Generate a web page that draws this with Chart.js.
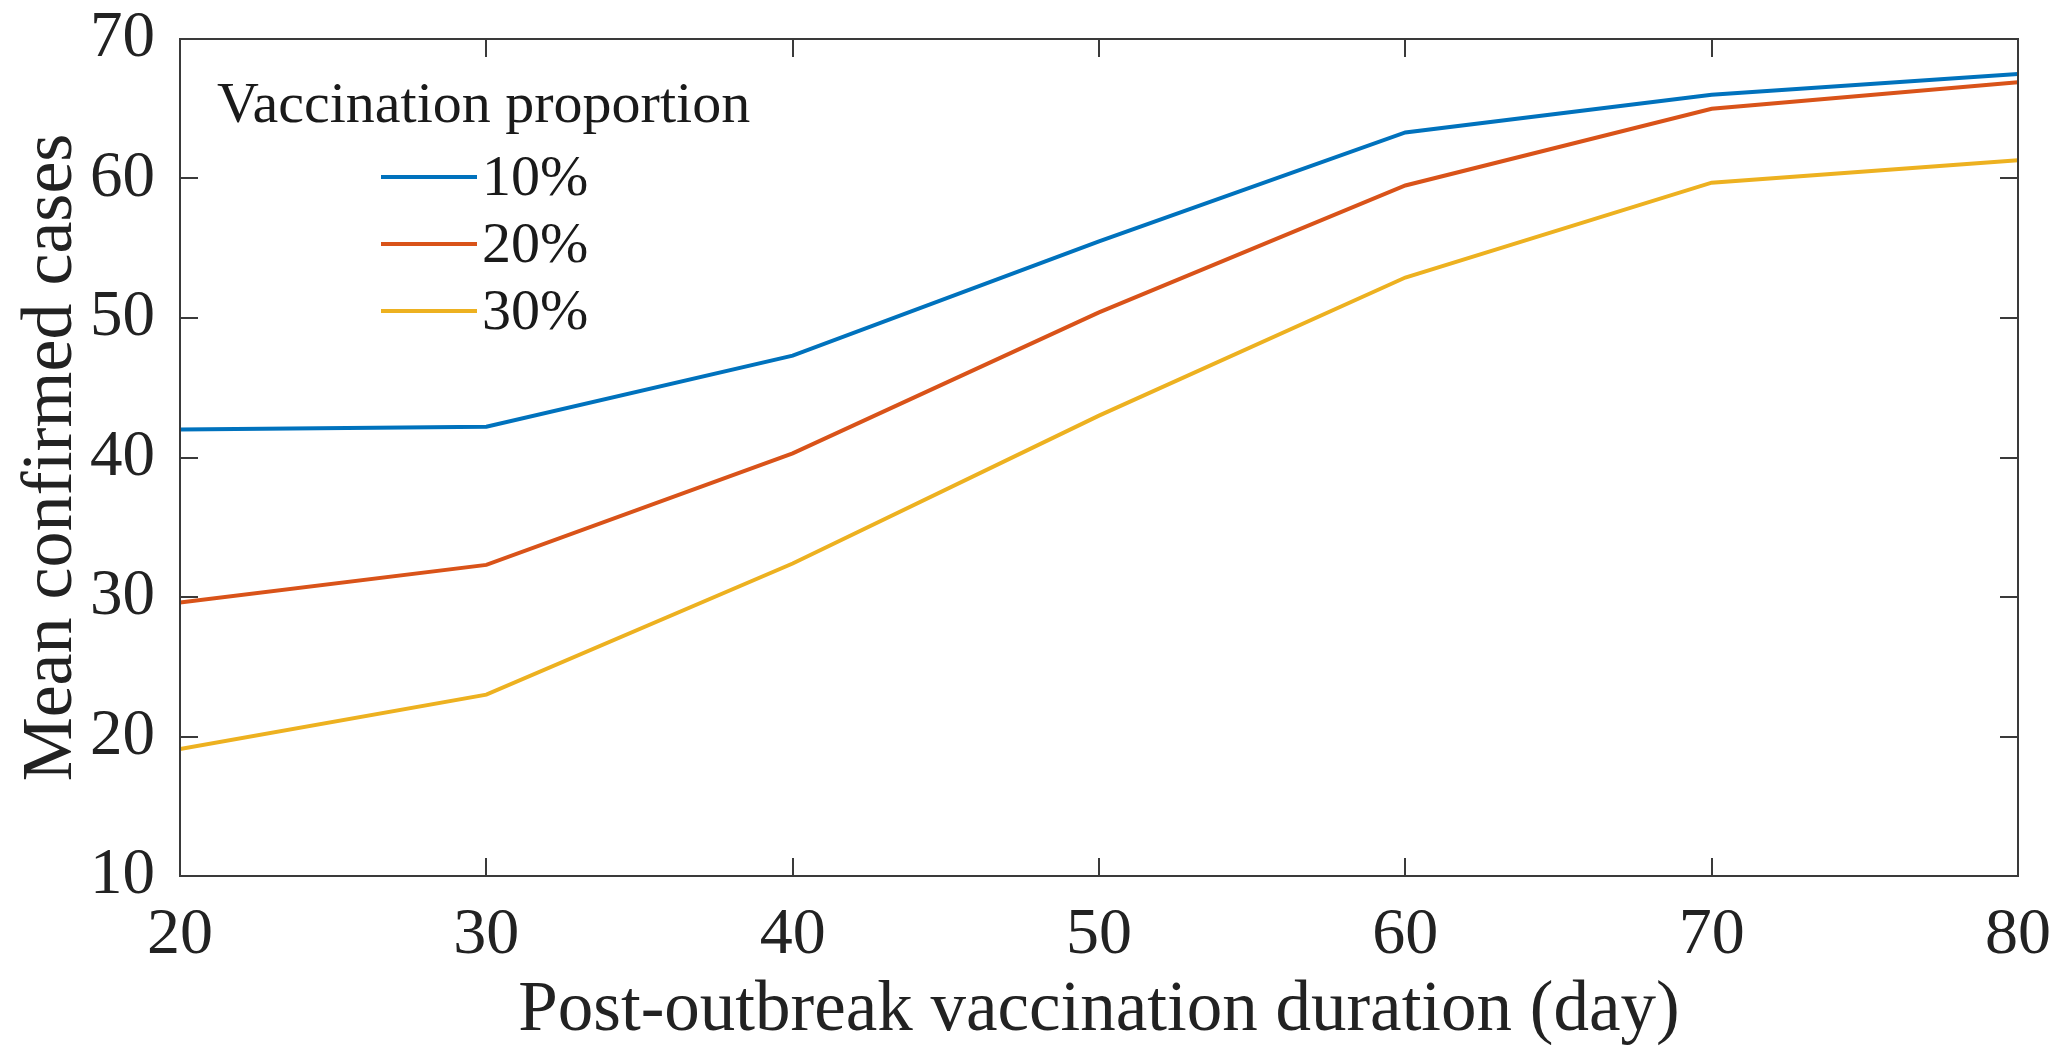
<!DOCTYPE html>
<html>
<head>
<meta charset="utf-8">
<style>
  html, body { margin: 0; padding: 0; background: #fff; }
  #wrap { width: 2059px; height: 1052px; }
</style>
<script src="https://cdn.jsdelivr.net/npm/chart.js@4/dist/chart.umd.min.js"></script>
</head>
<body>
<div id="wrap"><canvas id="chart" width="2059" height="1052"></canvas></div>
<script>
const days = [20, 30, 40, 50, 60, 70, 80];
const seriesLabels = ['10%', '20%', '30%'];
const cases10 = [42.0, 42.2, 47.3, 55.5, 63.3, 66.0, 67.5];
const cases20 = [29.6, 32.3, 40.3, 50.4, 59.5, 65.0, 66.9];
const cases30 = [19.1, 23.0, 32.4, 43.0, 52.9, 59.7, 61.3];
const xTicks = [20, 30, 40, 50, 60, 70, 80];
const yTicks = [10, 20, 30, 40, 50, 60, 70];

const colors = ['#0072BD', '#D95319', '#EDB120'];
const ink = '#222222';
const serif = '"Liberation Serif", "Times New Roman", serif';

function toPoints(vals){
  return days.map((d, i) => ({ x: d, y: vals[i] }));
}

// MATLAB style box with inward ticks on all sides
const boxTicks = {
  id: 'boxTicks',
  afterDraw(c){
    const {ctx, chartArea: a} = c;
    const xs = c.scales.x, ys = c.scales.y;
    ctx.save();
    ctx.strokeStyle = '#3a3a3a';
    ctx.lineWidth = 2;
    ctx.strokeRect(a.left, a.top, a.right - a.left, a.bottom - a.top);
    ctx.beginPath();
    xTicks.forEach(v => {
      const px = Math.round(xs.getPixelForValue(v));
      ctx.moveTo(px, a.bottom); ctx.lineTo(px, a.bottom - 18);
      ctx.moveTo(px, a.top); ctx.lineTo(px, a.top + 18);
    });
    yTicks.forEach(v => {
      const py = Math.round(ys.getPixelForValue(v));
      ctx.moveTo(a.left, py); ctx.lineTo(a.left + 18, py);
      ctx.moveTo(a.right, py); ctx.lineTo(a.right - 18, py);
    });
    ctx.stroke();
    ctx.restore();
  }
};

// legend inside the axes, title on top
const insideLegend = {
  id: 'insideLegend',
  afterDraw(c){
    const {ctx} = c;
    ctx.save();
    ctx.fillStyle = '#1a1a1a';
    ctx.font = '58px ' + serif;
    ctx.textBaseline = 'middle';
    ctx.textAlign = 'left';
    ctx.fillText('Vaccination proportion', 217, 107);
    const rows = [177, 244, 311];
    c.data.datasets.forEach((ds, i) => {
      ctx.strokeStyle = ds.borderColor;
      ctx.lineWidth = 4;
      ctx.beginPath();
      ctx.moveTo(381, rows[i]);
      ctx.lineTo(477, rows[i]);
      ctx.stroke();
      ctx.fillText(ds.label, 482, rows[i] + 3);
    });
    ctx.restore();
  }
};

new Chart(document.getElementById('chart'), {
  type: 'line',
  data: {
    datasets: [
      { label: seriesLabels[0], data: toPoints(cases10), borderColor: colors[0] },
      { label: seriesLabels[1], data: toPoints(cases20), borderColor: colors[1] },
      { label: seriesLabels[2], data: toPoints(cases30), borderColor: colors[2] }
    ]
  },
  options: {
    responsive: false,
    animation: false,
    devicePixelRatio: 1,
    layout: { padding: { top: 39, right: 41, left: 0, bottom: 0 } },
    elements: {
      line: { borderWidth: 4, tension: 0, fill: false },
      point: { radius: 0 }
    },
    plugins: { legend: { display: false }, tooltip: { enabled: false } },
    scales: {
      x: {
        type: 'linear', min: 20, max: 80,
        afterBuildTicks: s => { s.ticks = xTicks.map(v => ({ value: v })); },
        afterFit: s => { s.height = 176; s.paddingLeft = 0; s.paddingRight = 0; },
        grid: { display: false, drawTicks: false },
        border: { display: false },
        ticks: { color: ink, padding: 27, maxRotation: 0, autoSkip: false,
                 font: { family: serif, size: 66, lineHeight: 1 } },
        title: { display: true, text: 'Post-outbreak vaccination duration (day)', color: ink,
                 font: { family: serif, size: 71, lineHeight: 1.1 }, padding: { top: 0, bottom: 2 } }
      },
      y: {
        type: 'linear', min: 10, max: 70,
        afterBuildTicks: s => { s.ticks = yTicks.map(v => ({ value: v })); },
        afterFit: s => { s.width = 180; s.paddingTop = 0; s.paddingBottom = 0; },
        grid: { display: false, drawTicks: false },
        border: { display: false },
        ticks: { color: ink, padding: 25,
                 font: { family: serif, size: 65, lineHeight: 1 } },
        title: { display: true, text: 'Mean confirmed cases', color: ink,
                 font: { family: serif, size: 72, lineHeight: 1.2 }, padding: { top: 9, bottom: 0 } }
      }
    }
  },
  plugins: [boxTicks, insideLegend]
});
</script>
</body>
</html>
